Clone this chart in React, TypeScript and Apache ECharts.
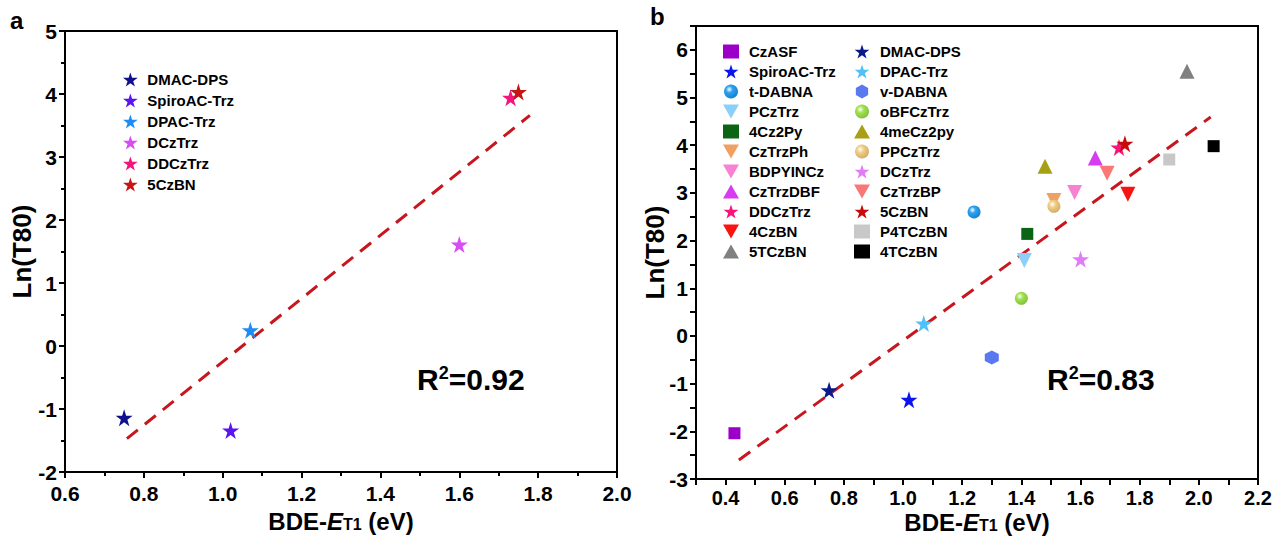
import React, { useEffect, useRef } from "react";
import * as echarts from "echarts";

// ---------- Panel a ----------
const namesA = ["DMAC-DPS", "SpiroAC-Trz", "DPAC-Trz", "DCzTrz", "DDCzTrz", "5CzBN"];
const xA = [0.75, 1.02, 1.07, 1.6, 1.73, 1.75];
const yA = [-1.14, -1.34, 0.25, 1.61, 3.94, 4.03];
const colorsA = ["#10108c", "#5a14f0", "#1e8cf5", "#d84cf5", "#f5147d", "#c81414"];
const fitAx = [0.757, 1.779];
const fitAy = [-1.47, 3.66];

// ---------- Panel b ----------
const namesB = [
  "CzASF", "SpiroAC-Trz", "t-DABNA", "PCzTrz", "4Cz2Py", "CzTrzPh", "BDPYINCz", "CzTrzDBF", "DDCzTrz", "4CzBN", "5TCzBN",
  "DMAC-DPS", "DPAC-Trz", "v-DABNA", "oBFCzTrz", "4meCz2py", "PPCzTrz", "DCzTrz", "CzTrzBP", "5CzBN", "P4TCzBN", "4TCzBN",
];
const xB = [0.43, 1.02, 1.24, 1.41, 1.42, 1.51, 1.58, 1.65, 1.73, 1.76, 1.96, 0.75, 1.07, 1.3, 1.4, 1.48, 1.51, 1.6, 1.69, 1.75, 1.9, 2.05];
const yB = [-2.04, -1.34, 2.6, 1.58, 2.14, 2.84, 3.01, 3.73, 3.95, 2.97, 5.55, -1.14, 0.26, -0.45, 0.79, 3.56, 2.72, 1.61, 3.41, 4.03, 3.7, 3.98];
const colorsB = [
  "#9c00c8", "#0a14f0", "#1496f0", "#8cd0fa", "#0a6414", "#f0a060", "#f882d2", "#d83cf0", "#f81478", "#f81410", "#808080",
  "#0a1a8a", "#50c0f8", "#5a78f0", "#96e040", "#a8a014", "#f0c878", "#e07cf8", "#f87878", "#c80a0a", "#c8c8c8", "#000000",
];
const shapesB = [
  "square", "star", "sphere", "down", "square", "down", "down", "up", "star", "down", "up",
  "star", "star", "hex", "sphere", "up", "sphere", "star", "down", "star", "square", "square",
];
const fitBx = [0.445, 2.04];
const fitBy = [-2.6, 4.59];

const ticksA_x = { min: 0.6, max: 2.0, interval: 0.2 };
const ticksA_y = { min: -2, max: 5, interval: 1 };
const ticksB_x = { min: 0.3, max: 2.2, interval: 0.1 };
const ticksB_y = { min: -3, max: 6.5, interval: 0.5 };

const STAR = "path://M50,0 L61.2,34.5 L97.6,34.5 L68.2,55.9 L79.4,90.5 L50,69.1 L20.6,90.5 L31.8,55.9 L2.4,34.5 L38.8,34.5 Z";
const HEX = "path://M25,0 L47,12.5 L47,37.5 L25,50 L3,37.5 L3,12.5 Z";
const DOWN = "path://M0,0 L100,0 L50,86.6 Z";
const UP = "path://M50,0 L100,86.6 L0,86.6 Z";

const FONT = "'Liberation Sans', Arial, Helvetica, sans-serif";

function shade(hex: string, f: number) {
  const n = parseInt(hex.slice(1), 16);
  let r = (n >> 16) & 255, g = (n >> 8) & 255, b = n & 255;
  if (f > 0) {
    r = Math.round(r + (255 - r) * f); g = Math.round(g + (255 - g) * f); b = Math.round(b + (255 - b) * f);
  } else {
    r = Math.round(r * (1 + f)); g = Math.round(g * (1 + f)); b = Math.round(b * (1 + f));
  }
  return `rgb(${r},${g},${b})`;
}

function symbolFor(shape: string) {
  switch (shape) {
    case "square": return { symbol: "rect", size: 12 };
    case "star": return { symbol: STAR, size: 17 };
    case "sphere": return { symbol: "circle", size: 13 };
    case "down": return { symbol: DOWN, size: 15 };
    case "up": return { symbol: UP, size: 15 };
    case "hex": return { symbol: HEX, size: 14 };
  }
  return { symbol: "circle", size: 12 };
}

function colorFor(shape: string, c: string): any {
  if (shape === "sphere") {
    return {
      type: "radial", x: 0.38, y: 0.35, r: 0.7,
      colorStops: [
        { offset: 0, color: "#ffffff" },
        { offset: 0.35, color: shade(c, 0.1) },
        { offset: 1, color: shade(c, -0.15) },
      ],
    };
  }
  return c;
}

export default function App() {
  const ref = useRef<HTMLDivElement>(null);
  useEffect(() => {
    if (!ref.current) return;
    const chart = echarts.init(ref.current, null, { renderer: "svg" });

    const tickLine = { color: "#000", width: 2 };
    const majorTick = { show: true, inside: false, length: 6, lineStyle: tickLine };
    const minorTick = { show: true, splitNumber: 2, length: 4, lineStyle: tickLine };
    const axisCommon = {
      type: "value" as const,
      axisLine: { show: true, onZero: false, lineStyle: { color: "#000", width: 2 } },
      splitLine: { show: false },
      axisLabel: { color: "#000", fontSize: 21, fontWeight: "bold", fontFamily: FONT, hideOverlap: false },
      nameLocation: "middle" as const,
      nameMoveOverlap: false,
    };

    const xName = {
      rich: {
        b: { fontSize: 24, fontWeight: "bold", fontFamily: FONT, color: "#000" },
        i: { fontSize: 24, fontWeight: "bold", fontStyle: "italic", fontFamily: FONT, color: "#000" },
        s: { fontSize: 16, fontWeight: "bold", fontFamily: FONT, color: "#000", padding: [6, 0, 0, 0] },
      },
    };
    const xNameStr = "{b|BDE-}{i|E}{s|T1}{b| (eV)}";
    const yNameStyle = { fontSize: 26, fontWeight: "bold", fontFamily: FONT, color: "#000" };

    const series: any[] = [];
    namesA.forEach((n, i) => {
      series.push({
        name: n, type: "scatter", xAxisIndex: 0, yAxisIndex: 0,
        symbol: STAR, symbolSize: 17,
        itemStyle: { color: colorsA[i], opacity: 1 },
        data: [[xA[i], yA[i]]],
        z: 3,
      });
    });
    series.push({
      type: "line", xAxisIndex: 0, yAxisIndex: 0, symbol: "none",
      lineStyle: { color: "#c8161e", width: 3, type: [14, 9] },
      data: [[fitAx[0], fitAy[0]], [fitAx[1], fitAy[1]]],
      z: 2,
    });
    namesB.forEach((n, i) => {
      const s = symbolFor(shapesB[i]);
      series.push({
        name: n, type: "scatter", xAxisIndex: 1, yAxisIndex: 1,
        symbol: s.symbol, symbolSize: s.size,
        itemStyle: { color: colorFor(shapesB[i], colorsB[i]), opacity: 1 },
        data: [[xB[i], yB[i]]],
        z: 3,
      });
    });
    series.push({
      type: "line", xAxisIndex: 1, yAxisIndex: 1, symbol: "none",
      lineStyle: { color: "#c8161e", width: 3, type: [14, 9] },
      data: [[fitBx[0], fitBy[0]], [fitBx[1], fitBy[1]]],
      z: 2,
    });

    const legendText = { fontSize: 15, fontWeight: "bold", fontFamily: FONT, color: "#000", padding: [0, 0, 0, 4] };
    const legendItemsB = (from: number, to: number) =>
      namesB.slice(from, to).map((n, k) => {
        const i = from + k;
        const s = symbolFor(shapesB[i]);
        return { name: n, icon: s.symbol, itemStyle: { color: colorFor(shapesB[i], colorsB[i]), opacity: 1 } };
      });

    const gridCommon = {
      show: true, borderColor: "#000", borderWidth: 2, backgroundColor: "transparent",
      containLabel: false, outerBoundsMode: "none",
    };

    const option: any = {
      animation: false,
      backgroundColor: "#fff",
      textStyle: { fontFamily: FONT },
      grid: [
        { ...gridCommon, left: 65, top: 31, width: 552, height: 441 },
        { ...gridCommon, left: 696, top: 26, width: 562, height: 453 },
      ],
      xAxis: [
        {
          ...axisCommon, gridIndex: 0, ...ticksA_x,
          axisTick: majorTick, minorTick,
          axisLabel: { ...axisCommon.axisLabel, margin: 11, formatter: (v: number) => v.toFixed(1) },
          name: xNameStr, nameGap: 37, nameTextStyle: xName,
        },
        {
          ...axisCommon, gridIndex: 1, ...ticksB_x,
          axisTick: majorTick,
          axisLabel: {
            ...axisCommon.axisLabel, fontSize: 20, margin: 9,
            formatter: (v: number) => { const k = Math.round(v * 10); return k % 2 === 0 ? (k / 10).toFixed(1) : ""; },
          },
          name: xNameStr, nameGap: 31, nameTextStyle: xName,
        },
      ],
      yAxis: [
        {
          ...axisCommon, gridIndex: 0, ...ticksA_y,
          axisTick: majorTick, minorTick,
          axisLabel: { ...axisCommon.axisLabel, margin: 8 },
          name: "Ln(T80)", nameGap: 30, nameTextStyle: yNameStyle,
        },
        {
          ...axisCommon, gridIndex: 1, ...ticksB_y,
          axisTick: majorTick,
          axisLabel: {
            ...axisCommon.axisLabel, margin: 8,
            formatter: (v: number) => (Math.abs(v - Math.round(v)) < 1e-6 ? String(Math.round(v)) : ""),
          },
          name: "Ln(T80)", nameGap: 28, nameTextStyle: yNameStyle,
        },
      ],
      legend: [
        {
          orient: "vertical", left: 118, top: 67, itemWidth: 16, itemHeight: 14, itemGap: 6,
          textStyle: legendText, selectedMode: false,
          data: namesA.map((n, i) => ({ name: n, icon: STAR, itemStyle: { color: colorsA[i], opacity: 1 } })),
        },
        {
          orient: "vertical", left: 718, top: 39, itemWidth: 16, itemHeight: 14, itemGap: 5,
          textStyle: { ...legendText, padding: [0, 0, 0, 5] }, selectedMode: false,
          data: legendItemsB(0, 11),
        },
        {
          orient: "vertical", left: 849, top: 39, itemWidth: 16, itemHeight: 14, itemGap: 5,
          textStyle: { ...legendText, padding: [0, 0, 0, 5] }, selectedMode: false,
          data: legendItemsB(11, 22),
        },
      ],
      graphic: [
        { type: "text", left: 10, top: 8, style: { text: "a", fontSize: 24, fontWeight: "bold", fontFamily: FONT, fill: "#000" } },
        { type: "text", left: 650, top: 4, style: { text: "b", fontSize: 24, fontWeight: "bold", fontFamily: FONT, fill: "#000" } },
        {
          type: "text", left: 417, top: 364,
          style: {
            text: "{r|R}{s|2}{r|=0.92}",
            rich: {
              r: { fontSize: 30, fontWeight: "bold", fontFamily: FONT, fill: "#000" },
              s: { fontSize: 18, fontWeight: "bold", fontFamily: FONT, fill: "#000", padding: [0, 0, 13, 0] },
            },
          },
        },
        {
          type: "text", left: 1047, top: 364,
          style: {
            text: "{r|R}{s|2}{r|=0.83}",
            rich: {
              r: { fontSize: 30, fontWeight: "bold", fontFamily: FONT, fill: "#000" },
              s: { fontSize: 18, fontWeight: "bold", fontFamily: FONT, fill: "#000", padding: [0, 0, 13, 0] },
            },
          },
        },
      ],
      series,
    };
    chart.setOption(option);
    return () => chart.dispose();
  }, []);
  return <div ref={ref} style={{ position: "absolute", left: 0, top: 0, width: 1274, height: 539 }} />;
}
